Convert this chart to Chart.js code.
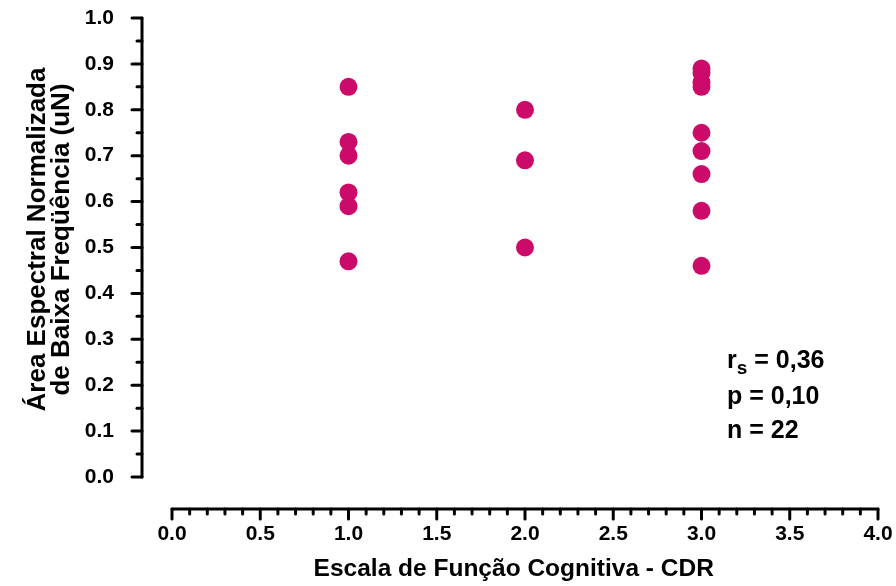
<!DOCTYPE html>
<html>
<head>
<meta charset="utf-8">
<script src="https://cdn.jsdelivr.net/npm/chart.js@4/dist/chart.umd.min.js"></script>
<style>
  html, body { margin: 0; padding: 0; background: #fff; }
  #wrap { width: 896px; height: 586px; }
</style>
</head>
<body>
<div id="wrap"><canvas id="chart" width="896" height="586"></canvas></div>
<script>
// CDR score and normalized low-frequency spectral area for each patient
const cdrScores = [1, 1, 1, 1, 1, 1, 2, 2, 2, 3, 3, 3, 3, 3, 3, 3, 3, 3]
const areaValues = [0.85, 0.73, 0.70, 0.62, 0.59, 0.47, 0.80, 0.69, 0.50, 0.89, 0.88, 0.86, 0.85, 0.75, 0.71, 0.66, 0.58, 0.46]

const xTicks = [0, 0.5, 1, 1.5, 2, 2.5, 3, 3.5, 4]
const yTicks = [0, 0.1, 0.2, 0.3, 0.4, 0.5, 0.6, 0.7, 0.8, 0.9, 1.0]
const xMinorStep = 0.1
const yMinorStep = 0.05

const yTitleLines = ['Área Espectral Normalizada', 'de Baixa Freqüência (uN)']
const xTitle = 'Escala de Função Cognitiva - CDR'
const statsLines = [['r', 's', ' = 0,36'], ['p', '', ' = 0,10'], ['n', '', ' = 22']]

const FONT = "'Liberation Sans', Arial, sans-serif"
const pointColor = 'rgb(204, 10, 106)'

// where the axis ends sit on the page (the axes are detached from each other)
const xAxisPx = { from: 172, to: 878 }
const yAxisPx = { from: 477, to: 18 }

// map the data range onto the detached axis lines once the chart area is known
const rangePlugin = {
    id: 'axisRange',
    afterLayout(chart) {
        const x = chart.scales.x
        const y = chart.scales.y
        const xUnit = (xAxisPx.to - xAxisPx.from) / 4
        x.min = (x.left - xAxisPx.from) / xUnit
        x.max = 4 + (x.right - xAxisPx.to) / xUnit
        x.configure()
        const yUnit = yAxisPx.from - yAxisPx.to
        y.min = -(y.bottom - yAxisPx.from) / yUnit
        y.max = 1 + (yAxisPx.to - y.top) / yUnit
        y.configure()
    }
}

// axis lines with major / minor ticks, titles and the stats box
const axesPlugin = {
    id: 'detachedAxes',
    afterDraw(chart) {
        const ctx = chart.ctx
        const x = chart.scales.x
        const y = chart.scales.y
        const xAxisY = chart.chartArea.bottom
        const yAxisX = chart.chartArea.left

        ctx.save()
        ctx.strokeStyle = '#000'
        ctx.lineWidth = 3
        ctx.lineCap = 'round'
        ctx.lineJoin = 'round'

        // y axis
        ctx.beginPath()
        ctx.moveTo(yAxisX, y.getPixelForValue(0))
        ctx.lineTo(yAxisX, y.getPixelForValue(1))
        ctx.stroke()
        for (let i = 0; i <= 20; i++) {
            const py = y.getPixelForValue(i * yMinorStep)
            const len = i % 2 === 0 ? 10 : 5
            ctx.beginPath()
            ctx.moveTo(yAxisX, py)
            ctx.lineTo(yAxisX - len, py)
            ctx.stroke()
        }

        // x axis
        ctx.beginPath()
        ctx.moveTo(x.getPixelForValue(0), xAxisY)
        ctx.lineTo(x.getPixelForValue(4), xAxisY)
        ctx.stroke()
        for (let i = 0; i <= 40; i++) {
            const px = x.getPixelForValue(i * xMinorStep)
            const len = i % 5 === 0 ? 10 : 5
            ctx.beginPath()
            ctx.moveTo(px, xAxisY)
            ctx.lineTo(px, xAxisY + len)
            ctx.stroke()
        }

        // y title, two rotated lines
        ctx.fillStyle = '#000'
        ctx.font = 'bold 26px ' + FONT
        ctx.textAlign = 'center'
        ctx.textBaseline = 'middle'
        const cy = (y.getPixelForValue(0) + y.getPixelForValue(1)) / 2 - 8
        ctx.translate(0, cy)
        ctx.rotate(-Math.PI / 2)
        ctx.fillText(yTitleLines[0], 0, 38)
        ctx.fillText(yTitleLines[1], 0, 62)
        ctx.setTransform(1, 0, 0, 1, 0, 0)

        // statistics box
        ctx.textAlign = 'left'
        ctx.textBaseline = 'alphabetic'
        const baselines = [368, 404, 438]
        statsLines.forEach((parts, i) => {
            let px = 727
            ctx.font = 'bold 25px ' + FONT
            ctx.fillText(parts[0], px, baselines[i])
            px += ctx.measureText(parts[0]).width
            if (parts[1]) {
                ctx.font = 'bold 19px ' + FONT
                ctx.fillText(parts[1], px, baselines[i] + 6)
                px += ctx.measureText(parts[1]).width
            }
            ctx.font = 'bold 25px ' + FONT
            ctx.fillText(parts[2], px, baselines[i])
        })
        ctx.restore()
    }
}

const chartConfig = {
    type: 'scatter',
    data: {
        datasets: [{
            data: cdrScores.map((c, i) => ({ x: c, y: areaValues[i] })),
            backgroundColor: pointColor,
            borderWidth: 0,
            pointRadius: 9,
            pointHoverRadius: 9,
            clip: false
        }]
    },
    options: {
        responsive: false,
        animation: false,
        events: [],
        layout: { padding: 0 },
        plugins: {
            legend: { display: false },
            tooltip: { enabled: false }
        },
        scales: {
            x: {
                type: 'linear',
                min: -0.2,
                max: 4.1,
                afterBuildTicks: scale => { scale.ticks = xTicks.map(v => ({ value: v })) },
                afterFit: scale => { scale.height = 77 },
                grid: { display: false, drawTicks: false },
                border: { display: false },
                ticks: {
                    padding: 13,
                    color: '#000',
                    font: { family: FONT, size: 21, weight: 'bold' },
                    callback: v => v.toFixed(1)
                },
                title: {
                    display: true,
                    text: xTitle,
                    color: '#000',
                    font: { family: FONT, size: 24.5, weight: 'bold' },
                    padding: { top: 0, bottom: 2 }
                }
            },
            y: {
                type: 'linear',
                min: -0.07,
                max: 1,
                afterBuildTicks: scale => { scale.ticks = yTicks.map(v => ({ value: v })) },
                afterFit: scale => { scale.width = 142 },
                grid: { display: false, drawTicks: false },
                border: { display: false },
                ticks: {
                    padding: 28,
                    color: '#000',
                    font: { family: FONT, size: 21, weight: 'bold' },
                    callback: v => v.toFixed(1)
                }
            }
        }
    },
    plugins: [rangePlugin, axesPlugin]
}

new Chart(document.getElementById('chart'), chartConfig)
</script>
</body>
</html>
